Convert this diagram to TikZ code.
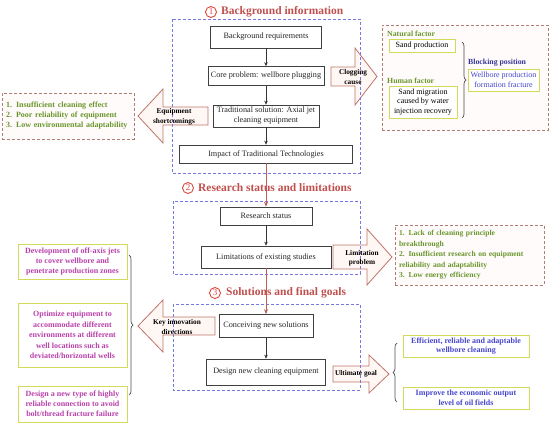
\documentclass[tikz,border=0pt]{standalone}
\usepackage{fontspec}
\setmainfont{Liberation Serif}
\usepackage{tikz}
\usetikzlibrary{arrows.meta,positioning,calc,decorations.pathreplacing}

\definecolor{titlered}{RGB}{192,80,77}
\definecolor{ringred}{RGB}{222,70,60}
\definecolor{stageblue}{RGB}{120,120,225}
\definecolor{notebrown}{RGB}{175,125,115}
\definecolor{leafgreen}{RGB}{105,150,45}
\definecolor{boxlime}{RGB}{210,218,90}
\definecolor{plum}{RGB}{185,65,170}
\definecolor{inkblue}{RGB}{70,70,205}
\definecolor{arrowedge}{RGB}{190,115,105}
\definecolor{arrowfill}{RGB}{255,247,244}
\definecolor{trunkred}{RGB}{185,95,85}

\tikzset{
  mainbox/.style={draw=black!75, line width=0.7pt, fill=white, align=center,
    text=black!85, font=\fontsize{8.2}{10}\selectfont, inner sep=1pt},
  stagebox/.style={draw=stageblue, line width=0.8pt, dash pattern=on 3pt off 2pt},
  notebox/.style={draw=notebrown, line width=0.7pt, dash pattern=on 3pt off 2pt,
    fill=arrowfill!50},
  limebox/.style={draw=boxlime, line width=1pt, fill=white, align=center, inner sep=1pt},
  fatarrow/.style={draw=arrowedge, fill=arrowfill, line width=0.8pt},
  arrowtext/.style={font=\bfseries\fontsize{7.3}{9.5}\selectfont, align=center, inner sep=0pt},
  stagetitle/.style={text=titlered, font=\bfseries\fontsize{11.5}{13}\selectfont, inner sep=0pt},
  ring/.style={circle, draw=ringred, line width=0.9pt, text=ringred, minimum size=11pt,
    inner sep=0pt, font=\fontsize{9}{9}\selectfont},
  flow/.style={-{Stealth[length=4pt,width=3.5pt]}, black!80, line width=0.6pt},
  trunk/.style={-{Stealth[length=5pt,width=4pt]}, trunkred, line width=0.9pt},
  curly/.style={decorate, decoration={brace, amplitude=4pt}, draw=black!70, line width=0.7pt},
}

\begin{document}
\begin{tikzpicture}[x=1pt, y=-1pt]
  \useasboundingbox (0,0) rectangle (550,424);

  % big arrows between the stages and the side notes
  \draw[fatarrow] (331,67) -- (355,67) -- (355,48) -- (377,76.5) -- (355,105) -- (355,86) -- (331,86) -- cycle;
  \draw[fatarrow] (208,107) -- (163,107) -- (163,89) -- (138,116) -- (163,143) -- (163,125) -- (208,125) -- cycle;
  \draw[fatarrow] (333,245) -- (367,245) -- (367,229) -- (392,257) -- (367,285) -- (367,269) -- (333,269) -- cycle;
  \draw[fatarrow] (215,317) -- (163,317) -- (163,300) -- (138,326) -- (163,352) -- (163,335) -- (215,335) -- cycle;
  \draw[fatarrow] (333,366) -- (369,366) -- (369,355) -- (389,374) -- (369,393) -- (369,382) -- (333,382) -- cycle;

  % stage frames
  \draw[stagebox] (172,19) rectangle (360,173);
  \draw[stagebox] (173,201) rectangle (360,274);
  \draw[stagebox] (173,304) rectangle (360,390);

  % stage titles
  \node[ring] (r1) at (211,12) {1};
  \node[stagetitle, right=4pt of r1] (t1) {Background information};
  \node[ring] (r2) at (188,188) {2};
  \node[stagetitle, right=4pt of r2] (t2) {Research status and limitations};
  \node[ring] (r3) at (215,293) {3};
  \node[stagetitle, right=5pt of r3] (t3) {Solutions and final goals};

  % main chain
  \node[mainbox, minimum width=111pt, minimum height=22pt] (bgreq) at (266,37) {Background requirements};
  \node[mainbox, minimum width=116pt, minimum height=19pt] (core) at (266,76) {Core problem: wellbore plugging};
  \node[mainbox, minimum width=106pt, minimum height=22pt] (trad) at (266,116) {Traditional solution: Axial jet\\cleaning equipment};
  \node[mainbox, minimum width=173pt, minimum height=18pt] (impact) at (266,154) {Impact of Traditional Technologies};
  \node[mainbox, minimum width=92pt, minimum height=18pt] (status) at (266,216) {Research status};
  \node[mainbox, minimum width=130pt, minimum height=22pt] (limit) at (266,257) {Limitations of existing studies};
  \node[mainbox, minimum width=94pt, minimum height=23pt] (conceive) at (266,326) {Conceiving new solutions};
  \node[mainbox, minimum width=119pt, minimum height=26pt] (design) at (266,372) {Design new cleaning equipment};

  \draw[flow] (bgreq) -- (core);
  \draw[flow] (core) -- (trad);
  \draw[flow] (trad) -- (impact);
  \draw[flow] (status) -- (limit);
  \draw[flow] (conceive) -- (design);
  \draw[trunk] (impact) -- (status);
  \draw[trunk] (limit) -- (conceive);

  % arrow labels
  \node[arrowtext] (clog) at (353,77) {Clogging\\cause};
  \node[arrowtext] (shortc) at (174,117) {Equipment\\shortcomings};
  \node[arrowtext] (limprob) at (362,258) {Limitation\\problem};
  \node[arrowtext] (keyinn) at (177,327) {Key innovation\\directions};
  \node[arrowtext] (ultgoal) at (356,374) {Ultimate goal};

  % causes of plugging
  \node[notebox, minimum width=166pt, minimum height=105pt] (cause) at (465,77.5) {};
  \node[anchor=west, inner sep=0pt, text=leafgreen, font=\bfseries\fontsize{7.8}{9}\selectfont] (natural) at (387,34) {Natural factor};
  \node[limebox, minimum width=66pt, minimum height=13pt, font=\fontsize{8}{9.5}\selectfont] (sand) at (422,46) {Sand production};
  \node[anchor=west, inner sep=0pt, text=leafgreen, font=\bfseries\fontsize{7.8}{9}\selectfont] (human) at (387,81) {Human factor};
  \node[limebox, minimum width=68pt, minimum height=32pt, font=\fontsize{8}{9.8}\selectfont] (migrate) at (423,102) {Sand migration\\caused by water\\injection recovery};
  \node[anchor=west, inner sep=0pt, text=inkblue!75!black, font=\bfseries\fontsize{7.8}{9}\selectfont] (blockpos) at (468,63) {Blocking position};
  \node[limebox, minimum width=71pt, minimum height=22pt, text=inkblue, font=\fontsize{8}{9.8}\selectfont] (fracture) at (503.5,80) {Wellbore production\\formation fracture};
  \draw[curly] (462,42) -- (462,118);

  % shortcomings
  \node[notebox, text width=124pt, minimum height=46pt, align=left, inner xsep=4pt,
    text=leafgreen, font=\bfseries\fontsize{8}{10}\selectfont] (shortlist) at (68,116)
    {1. Insufficient cleaning effect\\2. Poor reliability of equipment\\3. Low environmental adaptability};

  % limitations
  \node[notebox, text width=141pt, minimum height=60pt, align=left, inner xsep=4pt,
    text=leafgreen, font=\bfseries\fontsize{7.6}{10.5}\selectfont] (limlist) at (469.5,255)
    {1. Lack of cleaning principle\\breakthrough\\2. Insufficient research on equipment\\reliability and adaptability\\3. Low energy efficiency};

  % innovation directions
  \node[limebox, minimum width=109pt, minimum height=35pt, text=plum, font=\bfseries\fontsize{8}{10}\selectfont] (offaxis) at (72.5,261.5) {Development of off-axis jets\\to cover wellbore and\\penetrate production zones};
  \node[limebox, minimum width=109pt, minimum height=64pt, text=plum, font=\bfseries\fontsize{8}{10.5}\selectfont] (optimize) at (72.5,335) {Optimize equipment to\\accommodate different\\environments at different\\well locations such as\\deviated/horizontal wells};
  \node[limebox, minimum width=109pt, minimum height=36pt, text=plum, font=\bfseries\fontsize{8}{10}\selectfont] (connect) at (72.5,404) {Design a new type of highly\\reliable connection to avoid\\bolt/thread fracture failure};
  \draw[curly] (129,255) -- (129,395);

  % final goals
  \node[limebox, minimum width=126pt, minimum height=22pt, text=inkblue, font=\bfseries\fontsize{8}{9.8}\selectfont] (efficient) at (466,346) {Efficient, reliable and adaptable\\wellbore cleaning};
  \node[limebox, minimum width=126pt, minimum height=22pt, text=inkblue, font=\bfseries\fontsize{8}{9.8}\selectfont] (economic) at (466,398) {Improve the economic output\\level of oil fields};
  \draw[curly] (397,402) -- (397,343);
\end{tikzpicture}
\end{document}
